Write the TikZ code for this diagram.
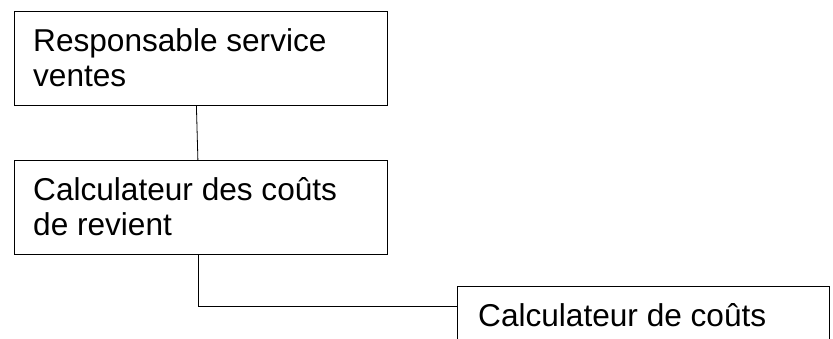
\documentclass[tikz,border=0pt]{standalone}
\usepackage{fontspec}
\setmainfont{Liberation Sans}
\begin{document}
\begin{tikzpicture}[x=1pt,y=-1pt,
  box/.style={draw=black,line width=0.8pt,rectangle,inner sep=0pt,anchor=north west},
  txt/.style={inner sep=0pt,anchor=base west,align=left,font=\fontsize{31.6}{35}\selectfont},
  conn/.style={draw=black,line width=0.8pt}]
\useasboundingbox (0,0) rectangle (833,338);
\node[box,minimum width=373pt,minimum height=94pt] (a) at (14,11) {};
\node[box,minimum width=373pt,minimum height=94pt] (b) at (14,160) {};
\node[box,minimum width=372pt,minimum height=94pt] (c) at (457,286) {};
\node[txt] (at1) at (33,51) {Responsable service};
\node[txt] (at2) at (33,86) {ventes};
\node[txt] (bt1) at (33,200) {Calculateur des coûts};
\node[txt] (bt2) at (33,235) {de revient};
\node[txt] (ct1) at (478,326) {Calculateur de coûts};
\draw[conn] ([xshift=-4.5pt]a.south) -- ([xshift=-3pt]b.north);
\draw[conn] ([xshift=-3pt]b.south) |- ([yshift=-20pt]c.north west);
\end{tikzpicture}
\end{document}
